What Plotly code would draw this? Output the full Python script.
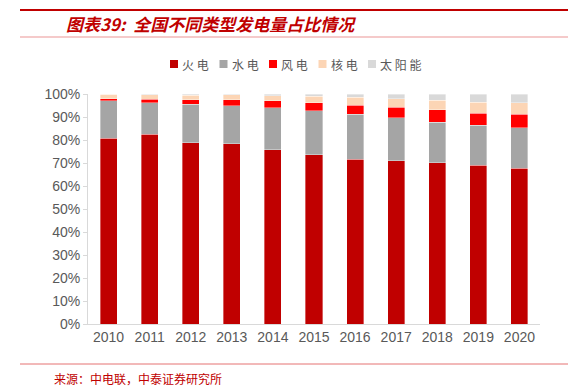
import plotly.graph_objects as go

years = ["2010", "2011", "2012", "2013", "2014", "2015", "2016", "2017", "2018", "2019", "2020"]
thermal = [80.7, 82.4, 78.7, 78.3, 75.7, 73.6, 71.6, 70.9, 70.1, 69.0, 67.8]
hydro = [16.3, 13.8, 16.8, 16.6, 18.3, 19.1, 19.6, 18.7, 17.7, 17.4, 17.5]
wind = [0.9, 1.6, 2.0, 2.6, 3.0, 3.5, 4.0, 4.6, 5.4, 5.3, 6.0]
nuclear = [1.9, 1.9, 2.0, 2.1, 2.3, 2.9, 3.4, 3.8, 4.1, 4.7, 4.9]
solar = [0.2, 0.3, 0.5, 0.4, 0.7, 0.9, 1.4, 2.0, 2.7, 3.6, 3.8]

series_names = ["火电", "水电", "风电", "核电", "太阳能"]
series_values = [thermal, hydro, wind, nuclear, solar]
series_colors = ["#C00000", "#A5A5A5", "#FF0000", "#FCD5B5", "#D9D9D9"]
y_ticks = [0, 10, 20, 30, 40, 50, 60, 70, 80, 90, 100]
y_tick_labels = [f"{v}%" for v in y_ticks]

W, H = 576, 391
L, R, T, B = 88, 540, 94, 324


def px(x):
    return (x - L) / (R - L)


def py(y):
    return (B - y) / (B - T)


fig = go.Figure()
for name, vals, col in zip(series_names, series_values, series_colors):
    fig.add_trace(go.Bar(
        x=years, y=vals, name=name, marker_color=col,
        marker_line=dict(color="rgba(255,255,255,0.6)", width=0.6),
        showlegend=False,
    ))

fig.update_layout(
    width=W, height=H,
    margin=dict(l=L, r=W - R, t=T, b=H - B, pad=0),
    paper_bgcolor="white", plot_bgcolor="white",
    barmode="stack", bargap=0.585,
    font=dict(family="Liberation Sans, Arial, sans-serif", color="#595959", size=14),
    xaxis=dict(
        showline=True, linecolor="#D9D9D9", linewidth=1, ticks="",
        tickfont=dict(size=14, color="#595959"), showgrid=False, zeroline=False,
    ),
    yaxis=dict(
        range=[0, 100], tickvals=y_ticks, ticktext=y_tick_labels,
        showline=True, linecolor="#D9D9D9", linewidth=1,
        ticks="outside", ticklen=4, tickcolor="#D9D9D9",
        tickfont=dict(size=14, color="#595959"), showgrid=False, zeroline=False,
    ),
)

shapes = [
    dict(type="line", xref="paper", yref="paper", x0=px(20), x1=px(568), y0=py(10), y1=py(10),
         line=dict(color="#C00000", width=2)),
    dict(type="line", xref="paper", yref="paper", x0=px(20), x1=px(568), y0=py(37), y1=py(37),
         line=dict(color="#F2B8B8", width=1.5)),
    dict(type="line", xref="paper", yref="paper", x0=px(20), x1=px(568), y0=py(364), y1=py(364),
         line=dict(color="#E57373", width=1)),
]

# legend drawn manually (square swatch + label)
leg_x0, leg_dx, leg_y = 170, 49.5, 64
for i, (name, col) in enumerate(zip(series_names, series_colors)):
    sx = leg_x0 + i * leg_dx
    shapes.append(dict(type="rect", xref="paper", yref="paper",
                       x0=px(sx), x1=px(sx + 8), y0=py(leg_y - 4), y1=py(leg_y + 4),
                       fillcolor=col, line=dict(width=0)))
    fig.add_annotation(
        text=" ".join(name), xref="paper", yref="paper",
        x=px(sx + 10), y=py(leg_y), xanchor="left", yanchor="middle", showarrow=False,
        font=dict(family="Noto Sans CJK SC", size=12, color="#595959"),
    )
fig.update_layout(shapes=shapes)

fig.add_annotation(
    text="图表39:  全国不同类型发电量占比情况", xref="paper", yref="paper",
    x=px(64), y=py(23), xanchor="left", yanchor="middle", showarrow=False,
    font=dict(family="Noto Sans CJK SC", size=17, color="#C00000", weight="bold", style="italic"),
)
fig.add_annotation(
    text="来源：中电联，中泰证券研究所", xref="paper", yref="paper",
    x=px(52), y=py(378), xanchor="left", yanchor="middle", showarrow=False,
    font=dict(family="Noto Sans CJK SC", size=12, color="#C00000"),
)

fig.write_html("out.html", config={"displayModeBar": False},
               post_script="document.body.style.margin='0';")
